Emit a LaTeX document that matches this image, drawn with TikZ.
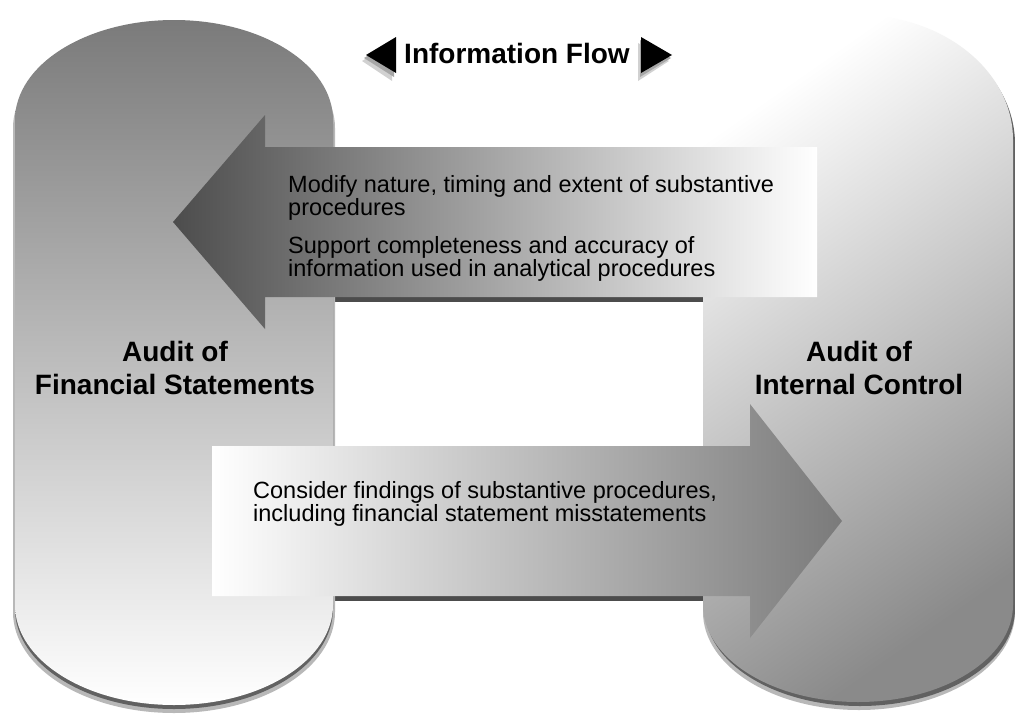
\documentclass[tikz,border=0pt]{standalone}
\usepackage{fontspec}
\setmainfont{Liberation Sans}
\begin{document}
\begin{tikzpicture}[x=1pt,y=-1pt,
  bodytext/.style={font=\fontsize{23.5}{23}\selectfont, align=left, inner sep=0pt},
  pillarlabel/.style={font=\bfseries\fontsize{28}{33}\selectfont, align=center, inner sep=0pt},
  titletext/.style={font=\bfseries\fontsize{28}{33}\selectfont, inner sep=0pt},
  shadowfill/.style={fill=black!70},
  rimfill/.style={fill=black!62},
  rimsoft/.style={fill=black!28}
]
\useasboundingbox (0,0) rectangle (1015,715);
\fill[white] (0,0) rectangle (1015,715);

% arrow shadows (visible between pillars only)
\fill[shadowfill] (265,151) -- (817,151) -- (817,302) -- (265,302) -- cycle;
\fill[shadowfill] (212,450) -- (750,450) -- (750,601) -- (212,601) -- cycle;

% pillar rim shadows (soft outer, darker inner)
\fill[rimsoft] (13,128) arc[start angle=180,end angle=0,x radius=161pt,y radius=100pt]
  -- (335,612) arc[start angle=0,end angle=-180,x radius=161pt,y radius=101pt] -- cycle;
\fill[rimsoft] (703,148) arc[start angle=180,end angle=0,x radius=156pt,y radius=125pt]
  -- (1015,612) arc[start angle=0,end angle=-180,x radius=156pt,y radius=98pt] -- cycle;
\fill[rimfill] (15,124) arc[start angle=180,end angle=0,x radius=159pt,y radius=100pt]
  -- (333,609) arc[start angle=0,end angle=-180,x radius=159pt,y radius=100pt] -- cycle;
\fill[rimfill] (705,144) arc[start angle=180,end angle=0,x radius=155pt,y radius=125pt]
  -- (1015,609) arc[start angle=0,end angle=-180,x radius=155pt,y radius=97pt] -- cycle;

% left pillar
\shade[top color=black!52, bottom color=white] (15,120)
  arc[start angle=180,end angle=0,x radius=159pt,y radius=100pt]
  -- (333,605) arc[start angle=0,end angle=-180,x radius=159pt,y radius=100pt] -- cycle;
% right pillar
\shade[top color=white, bottom color=black!46, shading angle=35] (703,140)
  arc[start angle=180,end angle=0,x radius=155pt,y radius=125pt]
  -- (1013,605) arc[start angle=0,end angle=-180,x radius=155pt,y radius=97pt] -- cycle;

% top arrow (pointing left)
\shade[left color=black!70, middle color=black!28, right color=white]
  (173,222) -- (265,115) -- (265,147) -- (817,147) -- (817,297) -- (265,297) -- (265,329) -- cycle;
% bottom arrow (pointing right)
\shade[left color=white, right color=black!52]
  (212,446) -- (750,446) -- (750,404) -- (842,521) -- (750,638) -- (750,596) -- (212,596) -- cycle;

% title triangles with soft shadows
\fill[black!18] (362,61) -- (392,43) -- (392,81) -- cycle;
\fill[black!35] (364,58) -- (394,40) -- (394,77) -- cycle;
\fill[black] (366,55) -- (396,37) -- (396,73) -- cycle;
\fill[black!18] (638,43) -- (669,61) -- (638,81) -- cycle;
\fill[black!35] (640,40) -- (671,58) -- (640,77) -- cycle;
\fill[black] (641,37) -- (672,55) -- (641,73) -- cycle;

\node[titletext, anchor=base] (title) at (517,63) {Information Flow};

\node[pillarlabel, anchor=base] (afs) at (175,394) {Audit of\\Financial Statements};
\node[pillarlabel, anchor=base] (aic) at (859,394) {Audit of\\Internal Control};

\node[bodytext, anchor=base west] (mod) at (288,215) {Modify nature, timing and extent of substantive\\procedures};
\node[bodytext, anchor=base west] (sup) at (288,276) {Support completeness and accuracy of\\information used in analytical procedures};
\node[bodytext, anchor=base west] (con) at (253,521) {Consider findings of substantive procedures,\\including financial statement misstatements};
\end{tikzpicture}
\end{document}
